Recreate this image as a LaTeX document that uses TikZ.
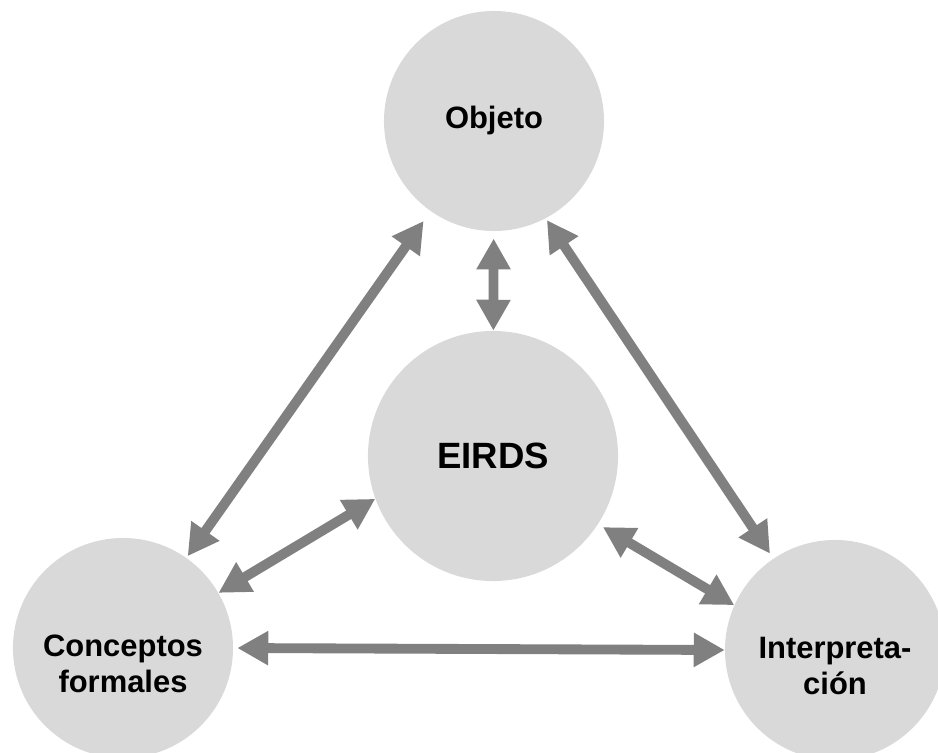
\documentclass[tikz,border=0pt]{standalone}
\usepackage{fontspec}
\setmainfont{Liberation Sans}
\usetikzlibrary{arrows.meta}

\definecolor{circfill}{RGB}{217,217,217}
\definecolor{arrowgray}{RGB}{128,128,128}

\begin{document}
\begin{tikzpicture}[x=0.025cm, y=-0.025cm,
  circ/.style={circle, fill=circfill, inner sep=0pt, minimum size=5.5cm,
    font=\bfseries\fontsize{22}{26}\selectfont, align=center},
  txt/.style={font=\bfseries\fontsize{22}{26}\selectfont, align=center, yshift=-0.4cm},
  link/.style={draw=arrowgray, line width=7pt,
    {Triangle[length=22pt,width=23pt]}-{Triangle[length=22pt,width=23pt]}}]

\useasboundingbox (0,0) rectangle (938,753);

\node[circ] (obj) at (494,121) {Objeto};
\node[circ, minimum size=6.25cm, font=\bfseries\fontsize{26}{30}\selectfont] (eirds) at (493,456) {EIRDS};
\node[circ, label={[txt, name=cftext]center:Conceptos\\formales}] (cf) at (123,648) {};
\node[circ, label={[txt, name=inttext]center:Interpreta-\\ción}] (int) at (835,650) {};

\draw[link, shorten <=0.3cm, shorten >=0.05cm] (obj) -- (cf);
\draw[link, shorten <=0.18cm] (obj) -- (eirds);
\draw[link, shorten <=0.05cm, shorten >=0.15cm] (obj.298) -- (int.124);
\draw[link] (cf.30) -- (eirds.200);
\draw[link, shorten <=0.14cm] (eirds.327) -- (int.156);
\draw[link, shorten <=0.1cm] (cf.east) -- (int.west);

\end{tikzpicture}
\end{document}
